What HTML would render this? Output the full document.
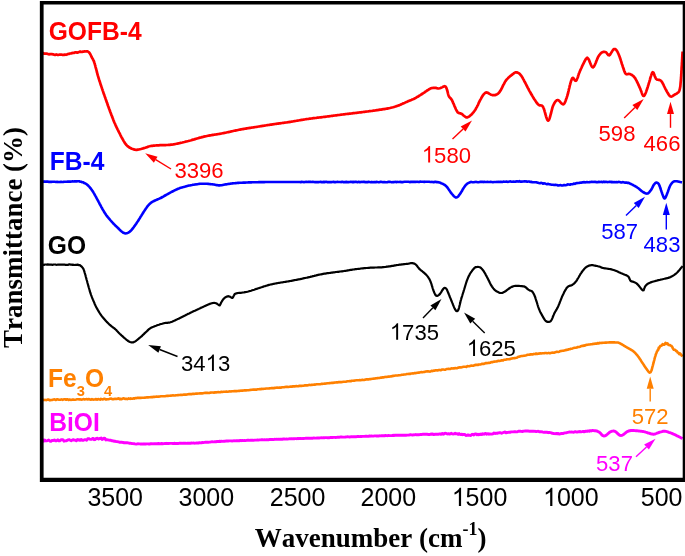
<!DOCTYPE html>
<html><head><meta charset="utf-8"><title>FTIR</title>
<style>
html,body{margin:0;padding:0;background:#fff;}
body{width:685px;height:556px;overflow:hidden;}
svg{display:block;will-change:transform;}
text{font-family:"Liberation Sans",sans-serif;}
.b{font-weight:bold;font-size:24.6px;}
.a{font-size:22.1px;}
.t{font-size:25px;}
.s{font-family:"Liberation Serif",serif;font-weight:bold;font-size:27px;font-kerning:none;}
</style></head><body>
<svg width="685" height="556" viewBox="0 0 685 556">
<rect width="685" height="556" fill="#fff"/>
<path d="M42.0,439.8 L42.6,439.7 L43.2,440.0 L43.9,441.1 L44.8,440.0 L45.6,440.9 L46.6,440.9 L47.6,440.5 L48.7,440.0 L49.8,441.0 L50.9,441.3 L52.0,440.4 L53.2,440.6 L54.4,439.9 L55.5,440.8 L56.7,440.7 L57.8,439.8 L58.9,440.9 L60.0,440.7 L61.0,439.8 L61.9,439.7 L62.9,439.7 L64.0,441.2 L65.0,440.9 L66.0,440.9 L67.1,440.4 L68.1,439.8 L69.1,439.6 L70.2,440.2 L71.2,440.7 L72.3,440.1 L73.3,439.7 L74.3,440.1 L75.3,440.2 L76.3,440.8 L77.3,439.6 L78.2,440.0 L79.1,439.7 L80.0,440.4 L81.2,439.4 L82.3,440.3 L83.4,440.3 L84.5,439.7 L85.6,439.8 L86.7,440.3 L87.7,438.8 L88.8,438.7 L89.7,439.1 L90.7,439.4 L91.6,439.3 L92.5,438.5 L93.4,438.4 L94.2,439.7 L95.0,439.5 L96.3,438.5 L97.5,438.3 L98.6,439.1 L99.5,438.5 L100.4,438.5 L101.2,438.0 L102.1,439.6 L103.0,439.1 L104.0,438.2 L105.0,438.5 L105.9,440.0 L106.9,439.6 L107.9,439.8 L108.9,440.1 L110.0,440.2 L110.8,440.3 L111.7,440.7 L112.6,440.8 L113.5,441.0 L114.5,441.3 L115.4,441.3 L116.4,441.6 L117.4,441.6 L118.4,441.9 L119.4,442.2 L120.3,442.3 L121.3,442.2 L122.2,442.3 L123.2,442.5 L124.2,442.8 L125.2,442.8 L126.2,442.8 L127.2,442.8 L128.1,442.9 L129.1,443.2 L130.0,443.1 L131.0,443.4 L131.8,443.5 L132.6,443.6 L133.3,443.6 L134.1,443.7 L135.0,443.9 L136.2,444.1 L137.6,443.8 L139.3,443.9 L140.0,443.9 L140.7,444.1 L141.5,444.0 L142.3,444.0 L143.1,444.1 L144.0,443.8 L144.9,444.0 L145.8,444.0 L146.8,443.9 L147.8,443.9 L148.8,444.0 L149.8,444.0 L150.8,443.7 L151.9,443.7 L152.9,443.9 L154.0,443.7 L155.1,443.8 L156.2,443.8 L157.3,443.7 L158.4,443.5 L159.5,443.7 L160.6,443.7 L161.7,443.5 L162.8,443.7 L163.9,443.6 L165.0,443.5 L165.9,443.5 L166.9,443.3 L167.9,443.5 L168.8,443.5 L169.8,443.4 L170.8,443.4 L171.8,443.4 L172.8,443.5 L173.8,443.5 L174.9,443.3 L175.9,443.5 L176.9,443.5 L178.0,443.5 L179.0,443.3 L180.1,443.3 L181.1,443.2 L182.1,443.4 L183.2,443.1 L184.2,443.2 L185.3,443.2 L186.3,443.4 L187.3,443.3 L188.4,443.2 L189.4,443.2 L190.4,443.3 L191.4,443.0 L192.4,443.1 L193.4,443.0 L194.4,443.2 L195.4,443.1 L196.4,443.0 L197.5,442.9 L198.5,443.0 L199.5,442.7 L200.5,442.9 L201.4,442.8 L202.4,442.5 L203.4,442.6 L204.4,442.4 L205.3,442.3 L206.3,442.3 L207.2,442.3 L208.2,442.3 L209.2,442.1 L210.1,442.1 L211.1,441.9 L212.1,441.8 L213.0,441.9 L214.0,441.9 L215.0,441.7 L216.0,441.7 L217.1,441.5 L218.1,441.5 L219.1,441.3 L220.2,441.5 L221.3,441.3 L222.4,441.4 L223.5,441.3 L224.4,441.1 L225.3,441.2 L226.3,441.0 L227.2,440.9 L228.2,441.0 L229.1,440.9 L230.1,440.9 L231.1,440.9 L232.1,441.0 L233.1,440.9 L234.1,440.8 L235.1,440.9 L236.1,440.8 L237.2,440.8 L238.2,440.7 L239.2,440.8 L240.3,440.5 L241.3,440.7 L242.3,440.4 L243.4,440.6 L244.4,440.4 L245.5,440.6 L246.5,440.4 L247.5,440.3 L248.6,440.2 L249.6,440.4 L250.6,440.3 L251.6,440.2 L252.6,440.1 L253.6,440.3 L254.6,440.1 L255.6,440.1 L256.6,440.1 L257.5,439.9 L258.5,440.1 L259.5,439.9 L260.5,439.9 L261.5,439.8 L262.5,439.8 L263.5,439.9 L264.4,439.8 L265.3,439.9 L266.3,439.8 L267.2,439.8 L268.1,439.6 L269.0,439.7 L269.9,439.5 L270.8,439.5 L271.7,439.5 L272.6,439.5 L273.5,439.6 L274.4,439.3 L275.4,439.4 L276.3,439.3 L277.2,439.4 L278.2,439.2 L279.2,439.4 L280.1,439.2 L281.1,439.1 L282.2,439.3 L283.2,439.0 L284.3,439.0 L285.4,439.1 L286.5,439.0 L287.6,439.1 L288.8,438.9 L290.0,438.8 L290.8,438.9 L291.7,438.7 L292.6,438.9 L293.4,438.7 L294.3,438.7 L295.2,438.6 L296.1,438.6 L297.1,438.7 L298.0,438.5 L298.9,438.7 L299.9,438.5 L300.8,438.4 L301.8,438.6 L302.8,438.5 L303.8,438.5 L304.8,438.4 L305.8,438.3 L306.8,438.2 L307.8,438.3 L308.8,438.3 L309.8,438.3 L310.8,438.1 L311.9,438.3 L312.9,438.2 L313.9,438.0 L315.0,438.1 L316.0,438.1 L317.1,438.0 L318.1,438.0 L319.2,438.0 L320.2,437.9 L321.3,437.8 L322.3,437.9 L323.4,437.7 L324.4,437.8 L325.4,437.6 L326.5,437.6 L327.5,437.8 L328.6,437.7 L329.6,437.7 L330.6,437.5 L331.7,437.5 L332.7,437.5 L333.7,437.4 L334.7,437.4 L335.7,437.5 L336.7,437.4 L337.7,437.2 L338.7,437.2 L339.7,437.2 L340.7,437.0 L341.7,437.0 L342.7,437.1 L343.7,437.1 L344.7,437.1 L345.7,437.0 L346.7,436.9 L347.6,436.8 L348.6,436.9 L349.6,437.0 L350.6,436.8 L351.6,436.8 L352.6,436.8 L353.6,436.6 L354.6,436.7 L355.6,436.7 L356.6,436.7 L357.6,436.5 L358.6,436.4 L359.6,436.6 L360.6,436.5 L361.6,436.5 L362.6,436.4 L363.6,436.4 L364.6,436.4 L365.6,436.2 L366.6,436.2 L367.6,436.4 L368.6,436.3 L369.6,436.0 L370.6,436.2 L371.6,436.0 L372.6,436.1 L373.5,436.1 L374.5,435.9 L375.5,435.9 L376.5,436.0 L377.5,435.9 L378.5,436.0 L379.5,435.8 L380.5,435.9 L381.5,435.8 L382.5,435.7 L383.5,435.8 L384.5,435.8 L385.5,435.5 L386.5,435.6 L387.6,435.7 L388.6,435.5 L389.7,435.6 L390.8,435.6 L391.8,435.6 L392.9,435.3 L394.0,435.5 L395.1,435.2 L396.2,435.3 L397.3,435.3 L398.4,435.3 L399.5,435.2 L400.6,435.1 L401.7,435.2 L402.8,435.2 L403.9,435.3 L405.0,435.2 L406.1,435.2 L407.2,435.1 L408.3,435.1 L409.4,435.0 L410.5,434.6 L411.5,434.8 L412.6,435.0 L413.6,434.8 L414.6,434.9 L415.7,434.5 L416.7,434.9 L417.7,434.6 L418.6,434.9 L419.6,434.6 L420.5,434.4 L421.5,434.5 L422.4,434.3 L423.3,434.3 L424.1,434.3 L425.0,434.2 L425.8,434.2 L426.6,434.2 L427.4,434.2 L428.1,434.6 L428.8,434.4 L429.5,434.5 L430.2,434.3 L432.1,434.0 L433.8,434.5 L435.3,434.3 L436.6,434.3 L437.7,434.2 L438.7,434.2 L439.6,433.9 L440.3,434.0 L441.0,434.3 L441.7,433.8 L442.3,433.4 L442.9,434.0 L443.6,434.2 L444.2,433.6 L445.0,433.3 L446.3,433.4 L447.4,434.0 L448.5,433.6 L449.5,434.1 L450.5,433.8 L451.4,433.3 L452.2,433.9 L453.1,434.0 L454.0,433.9 L455.1,433.3 L456.1,433.9 L457.1,433.7 L458.1,434.4 L459.1,433.6 L460.0,434.3 L461.0,434.5 L462.0,434.2 L462.9,434.7 L463.9,434.4 L464.9,434.5 L465.9,435.5 L466.9,435.4 L468.0,434.9 L468.9,435.3 L469.9,435.4 L470.8,435.5 L471.8,434.5 L472.8,434.3 L473.9,434.9 L474.9,434.0 L476.0,434.0 L477.0,434.7 L477.9,434.2 L478.7,434.7 L479.4,434.3 L480.2,434.5 L481.0,434.0 L481.8,434.5 L482.8,433.8 L483.9,434.3 L485.2,433.4 L486.7,434.2 L487.4,433.9 L488.2,433.6 L489.1,434.2 L490.0,434.0 L490.9,434.1 L491.9,434.0 L492.9,433.8 L494.0,433.0 L495.0,433.5 L496.1,433.2 L497.2,433.4 L498.3,432.9 L499.5,432.8 L500.6,432.7 L501.7,433.3 L502.8,432.8 L503.9,432.3 L505.0,432.0 L506.0,432.7 L507.1,432.5 L508.1,432.3 L509.1,432.1 L510.0,432.3 L511.1,431.9 L512.2,431.9 L513.2,431.9 L514.3,431.8 L515.3,431.8 L516.4,431.9 L517.4,431.8 L518.4,431.3 L519.4,431.3 L520.3,431.3 L521.3,431.4 L522.3,431.6 L523.2,431.2 L524.2,431.1 L525.1,431.0 L526.0,431.0 L527.0,430.9 L527.9,431.0 L528.8,431.2 L529.9,431.2 L531.0,431.1 L532.0,431.2 L533.1,431.1 L534.1,431.4 L535.2,431.3 L536.2,431.6 L537.2,431.4 L538.2,431.3 L539.2,431.8 L540.2,431.6 L541.2,431.9 L542.1,431.8 L543.1,432.1 L544.0,432.3 L545.0,432.3 L546.1,432.1 L547.2,432.3 L548.2,432.7 L549.3,432.4 L550.3,432.6 L551.4,432.9 L552.4,433.4 L553.4,433.5 L554.4,433.6 L555.4,433.7 L556.4,433.5 L557.3,433.8 L558.3,433.5 L559.2,434.0 L560.2,433.8 L561.3,433.5 L562.2,433.4 L563.2,433.6 L564.1,433.1 L565.0,432.9 L565.9,432.9 L566.8,432.6 L567.8,432.4 L568.8,432.2 L569.8,432.0 L570.8,432.1 L571.7,432.0 L572.7,432.1 L573.8,432.3 L574.8,431.8 L575.9,431.8 L577.0,432.1 L578.0,431.8 L579.1,431.7 L580.2,431.5 L581.2,431.9 L582.2,431.7 L583.2,431.4 L584.1,431.8 L584.9,431.5 L586.1,431.1 L587.3,431.4 L588.3,430.9 L589.3,431.2 L590.3,430.6 L591.1,431.0 L591.9,430.6 L592.7,430.4 L593.4,430.6 L594.7,430.8 L595.6,430.7 L596.3,431.1 L597.0,431.0 L598.0,431.6 L598.9,432.0 L599.7,432.5 L600.5,433.3 L601.3,434.2 L602.0,435.0 L603.0,435.7 L604.0,436.0 L604.8,435.9 L605.6,435.6 L606.5,435.0 L607.1,434.5 L607.8,433.8 L608.6,433.2 L609.3,432.5 L610.0,432.0 L610.9,431.6 L611.8,431.2 L612.7,431.1 L613.5,431.0 L614.4,431.1 L615.2,431.5 L616.0,432.0 L616.7,432.6 L617.5,433.4 L618.3,434.2 L619.0,434.8 L620.0,435.4 L621.0,435.5 L621.8,435.4 L622.6,435.0 L623.5,434.5 L624.3,433.9 L625.2,433.2 L626.1,432.4 L627.0,431.8 L627.9,431.3 L628.8,431.0 L629.8,430.7 L631.0,430.5 L631.9,430.5 L632.8,430.5 L633.8,430.5 L634.9,430.6 L635.9,430.7 L637.0,430.8 L637.9,430.9 L638.9,431.0 L639.9,431.1 L640.9,431.2 L641.9,431.4 L642.8,431.5 L643.7,431.7 L644.7,431.9 L645.6,432.2 L646.5,432.4 L647.3,432.7 L648.2,433.0 L649.0,433.2 L650.0,433.5 L650.9,433.8 L651.9,434.0 L652.8,434.2 L653.7,434.2 L654.6,434.1 L655.4,433.8 L656.2,433.5 L657.1,433.1 L658.0,432.8 L658.9,432.5 L659.8,432.2 L660.9,431.9 L661.9,431.6 L662.8,431.3 L663.7,431.2 L664.8,431.2 L665.8,431.4 L666.9,431.6 L668.0,432.0 L668.9,432.3 L669.9,432.6 L670.9,433.0 L671.9,433.4 L672.9,433.8 L673.8,434.2 L674.7,434.6 L675.6,435.0 L676.4,435.5 L677.2,435.9 L678.0,436.3 L679.0,436.8 L680.0,437.3 L681.0,437.8 L681.9,438.2 L682.5,438.5" fill="none" stroke="#ff00ff" stroke-width="2.9" stroke-linejoin="round" stroke-linecap="butt"/>
<path d="M42.0,399.9 L42.5,400.0 L43.1,399.8 L43.8,400.0 L44.4,400.0 L45.2,399.9 L46.0,400.1 L46.8,400.0 L47.6,399.5 L48.6,399.6 L49.5,400.2 L50.5,400.1 L51.5,400.0 L52.5,399.9 L53.6,399.5 L54.6,399.4 L55.7,400.0 L56.8,399.4 L58.0,399.4 L59.1,399.7 L60.3,399.8 L61.4,399.4 L62.6,399.9 L63.8,399.3 L65.0,399.3 L66.1,399.8 L67.3,399.2 L68.5,400.0 L69.6,399.5 L70.7,399.9 L71.9,399.7 L73.0,399.4 L74.0,399.7 L75.1,399.8 L76.1,399.6 L77.2,399.3 L78.1,399.3 L79.1,399.4 L80.0,399.2 L81.1,399.6 L82.3,399.5 L83.4,399.1 L84.5,399.4 L85.6,399.2 L86.7,399.1 L87.8,399.4 L88.8,399.1 L89.9,399.4 L91.0,399.7 L92.0,399.1 L93.1,399.6 L94.1,399.5 L95.1,399.5 L96.1,399.0 L97.1,399.6 L98.1,399.0 L99.1,399.4 L100.1,399.6 L101.0,398.9 L102.0,399.2 L102.9,399.5 L103.9,398.8 L104.8,398.8 L105.7,399.5 L106.6,399.4 L107.4,399.3 L108.3,399.3 L109.2,399.0 L110.0,398.7 L111.2,398.5 L112.3,399.3 L113.4,399.1 L114.4,398.9 L115.4,398.9 L116.3,399.0 L117.1,398.9 L118.0,398.5 L118.8,398.4 L119.7,399.2 L120.5,398.7 L121.4,399.3 L122.3,398.9 L123.2,398.3 L124.2,398.6 L125.2,398.9 L126.3,398.7 L127.4,399.1 L128.7,398.4 L130.0,398.9 L130.8,398.4 L131.6,398.7 L132.5,398.8 L133.3,398.3 L134.2,398.6 L135.1,398.1 L136.0,398.3 L137.0,397.9 L137.9,397.9 L138.9,397.9 L139.9,397.8 L140.9,397.9 L141.9,397.8 L142.9,397.8 L144.0,397.7 L145.0,397.6 L146.0,397.5 L147.1,397.3 L148.1,397.4 L149.2,397.3 L150.3,397.3 L151.3,397.0 L152.4,397.1 L153.5,396.9 L154.6,396.9 L155.6,396.8 L156.7,396.6 L157.8,396.8 L158.8,396.6 L159.9,396.5 L160.9,396.3 L161.9,396.2 L163.0,396.2 L164.0,396.2 L165.0,396.2 L166.0,396.0 L167.0,395.9 L168.0,395.9 L169.0,395.8 L170.0,395.8 L171.0,395.6 L172.0,395.5 L173.0,395.4 L174.0,395.5 L175.0,395.5 L176.0,395.2 L177.0,395.2 L178.0,395.1 L179.0,395.0 L180.0,395.0 L181.0,394.7 L182.0,394.9 L183.0,394.7 L184.0,394.5 L185.0,394.6 L186.0,394.6 L187.0,394.5 L188.0,394.2 L189.0,394.1 L190.0,394.1 L191.0,394.0 L192.0,394.1 L193.0,393.8 L194.0,393.9 L195.0,393.7 L196.0,393.6 L197.0,393.6 L198.0,393.5 L199.0,393.5 L200.0,393.4 L201.0,393.4 L202.0,393.4 L203.1,393.2 L204.1,393.0 L205.2,392.9 L206.2,392.9 L207.3,392.8 L208.4,393.0 L209.5,392.9 L210.6,392.6 L211.7,392.5 L212.8,392.5 L213.9,392.6 L215.0,392.4 L216.0,392.4 L217.1,392.2 L218.2,392.1 L219.3,392.3 L220.3,392.2 L221.4,391.8 L222.4,392.0 L223.5,391.8 L224.5,391.7 L225.5,391.8 L226.5,391.5 L227.4,391.7 L228.4,391.6 L229.3,391.4 L230.2,391.5 L231.0,391.4 L231.9,391.2 L232.7,391.2 L233.5,391.3 L234.3,391.1 L235.0,391.1 L236.5,391.1 L237.8,391.0 L239.0,390.9 L239.9,390.9 L240.7,390.6 L241.5,390.7 L242.2,390.5 L242.8,390.6 L243.5,390.5 L244.3,390.4 L245.1,390.3 L246.0,390.4 L247.2,390.3 L248.5,390.2 L250.0,389.9 L250.7,390.0 L251.5,389.8 L252.3,389.8 L253.2,389.6 L254.0,389.6 L254.9,389.5 L255.9,389.6 L256.8,389.6 L257.8,389.3 L258.8,389.2 L259.8,389.1 L260.8,389.1 L261.9,388.9 L263.0,389.0 L264.0,388.8 L265.1,388.7 L266.2,388.5 L267.3,388.5 L268.4,388.5 L269.5,388.4 L270.6,388.3 L271.7,388.1 L272.8,388.0 L273.9,388.1 L275.0,387.9 L276.1,387.8 L277.2,387.6 L278.2,387.7 L279.2,387.6 L280.3,387.6 L281.3,387.6 L282.2,387.3 L283.2,387.3 L284.1,387.2 L285.0,387.0 L286.1,386.9 L287.3,386.8 L288.4,387.0 L289.6,386.8 L290.7,386.6 L291.8,386.6 L293.0,386.4 L294.1,386.4 L295.2,386.4 L296.3,386.0 L297.4,386.2 L298.4,386.1 L299.5,385.9 L300.5,385.8 L301.6,385.9 L302.5,385.7 L303.5,385.7 L304.5,385.4 L305.4,385.4 L306.3,385.3 L307.2,385.4 L308.0,385.3 L308.8,385.0 L309.6,384.9 L310.3,385.1 L311.0,384.9 L311.7,384.9 L313.4,384.8 L314.4,384.6 L315.0,384.7 L315.3,384.6 L315.7,384.5 L316.5,384.3 L317.8,384.3 L320.0,384.2 L320.6,384.2 L321.4,383.8 L322.1,384.0 L322.9,383.8 L323.8,383.7 L324.7,383.6 L325.6,383.6 L326.6,383.4 L327.6,383.3 L328.6,383.3 L329.7,383.1 L330.8,383.0 L331.9,382.8 L333.0,382.9 L334.2,382.6 L335.3,382.5 L336.5,382.4 L337.7,382.4 L338.8,382.1 L340.0,382.1 L341.2,382.1 L342.3,382.0 L343.4,381.7 L344.6,381.8 L345.7,381.7 L346.8,381.4 L347.8,381.3 L348.9,381.3 L349.9,381.1 L350.8,381.2 L351.7,380.8 L352.6,380.7 L353.5,380.8 L354.3,380.6 L355.0,380.5 L356.5,380.3 L357.8,380.2 L359.0,380.3 L359.9,380.0 L360.7,380.2 L361.5,380.0 L362.2,379.8 L362.8,379.9 L363.5,380.0 L364.3,379.9 L365.1,379.8 L366.0,379.4 L367.2,379.4 L368.5,379.4 L370.0,379.1 L370.7,379.1 L371.5,378.9 L372.3,378.7 L373.1,378.8 L374.0,378.6 L374.8,378.5 L375.7,378.4 L376.6,378.3 L377.6,378.1 L378.5,378.0 L379.5,378.0 L380.5,377.6 L381.5,377.6 L382.6,377.4 L383.6,377.4 L384.7,377.1 L385.7,376.9 L386.8,377.0 L387.9,376.6 L389.0,376.6 L390.0,376.5 L391.1,376.4 L392.2,376.1 L393.3,375.9 L394.4,375.7 L395.5,375.5 L396.6,375.5 L397.7,375.5 L398.8,375.3 L399.8,375.2 L400.9,375.0 L401.9,374.7 L403.0,374.8 L404.0,374.5 L405.0,374.5 L406.0,374.3 L407.0,374.0 L408.0,374.0 L409.0,373.9 L410.1,373.9 L411.1,373.6 L412.1,373.4 L413.2,373.5 L414.2,373.1 L415.3,373.1 L416.3,373.0 L417.3,372.7 L418.4,372.6 L419.4,372.6 L420.5,372.3 L421.5,372.1 L422.5,372.2 L423.6,372.0 L424.6,371.9 L425.6,371.6 L426.6,371.4 L427.6,371.3 L428.6,371.4 L429.6,371.6 L430.6,371.5 L431.6,370.8 L432.6,371.1 L433.6,370.6 L434.5,370.7 L435.5,370.3 L436.4,370.2 L437.3,370.5 L438.2,370.2 L439.1,369.9 L440.0,370.1 L441.1,370.1 L442.2,369.5 L443.3,369.5 L444.4,369.7 L445.5,369.6 L446.5,369.0 L447.5,369.0 L448.5,368.8 L449.5,369.0 L450.5,368.9 L451.5,368.4 L452.5,368.5 L453.4,368.3 L454.4,368.4 L455.3,368.0 L456.3,368.2 L457.2,368.1 L458.1,367.6 L459.0,367.6 L460.0,367.3 L460.9,367.5 L461.8,367.3 L462.7,366.9 L463.6,366.7 L464.6,366.7 L465.5,366.8 L466.4,366.9 L467.4,366.1 L468.5,366.2 L469.5,366.3 L470.6,365.7 L471.6,365.6 L472.7,365.7 L473.7,365.6 L474.7,365.1 L475.8,364.9 L476.8,364.8 L477.8,365.0 L478.8,364.5 L479.8,364.5 L480.8,364.4 L481.8,363.8 L482.8,363.9 L483.7,363.9 L484.7,363.6 L485.6,363.1 L486.5,363.0 L487.4,363.1 L488.3,362.9 L489.2,362.9 L490.0,362.8 L491.2,362.1 L492.3,362.2 L493.4,361.8 L494.5,361.6 L495.5,361.5 L496.6,361.5 L497.6,361.0 L498.6,360.8 L499.5,361.0 L500.5,360.8 L501.4,360.3 L502.3,360.3 L503.1,360.5 L504.0,359.8 L504.8,359.8 L505.6,359.8 L506.4,359.4 L507.7,359.3 L508.9,359.3 L510.0,359.1 L511.0,358.6 L512.0,358.5 L512.9,358.3 L513.8,358.3 L514.6,358.1 L515.5,358.0 L516.3,357.8 L517.3,357.5 L518.2,356.8 L519.0,356.8 L519.7,356.5 L520.5,356.2 L521.5,356.0 L522.7,356.0 L523.5,355.8 L524.4,355.8 L525.4,355.5 L526.4,355.2 L527.5,354.8 L528.6,354.8 L529.7,354.6 L530.8,354.4 L531.9,354.2 L533.0,354.4 L534.0,353.9 L535.0,354.1 L536.1,353.5 L537.1,354.0 L538.2,353.6 L539.3,353.6 L540.3,353.2 L541.3,353.4 L542.3,353.2 L543.3,353.3 L544.3,353.3 L545.2,353.0 L546.0,353.0 L547.1,353.3 L548.0,353.1 L548.8,352.9 L549.6,353.2 L550.5,353.1 L551.6,352.8 L553.0,352.6 L553.7,352.7 L554.5,352.6 L555.4,352.3 L556.3,351.8 L557.2,351.8 L558.2,352.0 L559.2,351.8 L560.2,351.1 L561.3,351.0 L562.4,350.7 L563.4,350.8 L564.5,350.4 L565.6,350.1 L566.7,349.9 L567.7,349.7 L568.8,349.2 L569.7,349.3 L570.7,348.7 L571.7,348.8 L572.7,348.4 L573.7,347.9 L574.7,347.7 L575.8,347.7 L576.8,347.5 L577.8,347.0 L578.8,347.0 L579.9,346.7 L580.9,346.3 L581.9,345.9 L582.8,346.0 L583.8,345.5 L584.7,345.7 L585.6,345.1 L586.4,344.9 L587.6,344.7 L588.8,344.5 L589.8,344.5 L590.9,344.3 L591.9,344.3 L592.9,343.8 L593.8,344.0 L594.8,343.6 L595.7,343.5 L596.7,343.6 L597.6,343.0 L598.6,343.5 L599.7,342.9 L600.8,343.0 L601.9,342.9 L603.0,342.8 L604.1,342.7 L605.2,342.6 L606.3,342.6 L607.3,342.5 L608.3,342.5 L609.2,342.4 L610.0,342.4 L611.3,342.4 L612.5,342.4 L613.5,342.4 L614.4,342.4 L615.2,342.5 L616.0,342.5 L617.1,342.5 L617.9,342.5 L619.0,342.9 L619.7,343.2 L620.5,343.6 L621.4,344.1 L622.3,344.7 L623.2,345.2 L624.2,345.8 L625.2,346.4 L626.0,346.9 L626.8,347.3 L627.7,347.8 L628.6,348.3 L629.5,348.8 L630.4,349.3 L631.2,349.8 L632.0,350.3 L632.7,350.8 L633.6,351.5 L634.4,352.2 L635.1,352.9 L635.8,353.6 L636.4,354.3 L637.0,355.0 L637.6,355.7 L638.1,356.4 L638.6,357.1 L639.1,357.8 L639.7,358.7 L640.3,359.6 L640.8,360.3 L641.3,361.2 L641.9,362.1 L642.5,363.0 L643.1,363.9 L643.7,364.8 L644.3,365.7 L644.8,366.5 L645.3,367.2 L646.0,368.2 L646.6,369.1 L647.1,369.8 L647.6,370.4 L648.0,371.0 L648.9,372.1 L649.7,372.6 L650.5,372.3 L651.2,371.0 L651.5,370.4 L651.7,369.6 L652.0,368.8 L652.2,367.8 L652.5,366.6 L652.9,365.3 L653.1,364.5 L653.3,363.7 L653.6,362.7 L653.8,361.7 L654.1,360.7 L654.4,359.6 L654.6,358.6 L654.9,357.5 L655.2,356.5 L655.5,355.6 L655.7,354.7 L656.0,353.9 L656.5,352.7 L656.9,351.6 L657.4,350.9 L657.9,349.9 L658.3,349.6 L658.8,347.7 L659.2,348.0 L659.8,346.7 L660.4,345.9 L661.0,345.9 L661.7,345.6 L662.6,344.1 L663.5,344.6 L664.5,344.6 L665.5,342.8 L666.5,343.8 L667.4,343.3 L668.4,344.9 L669.3,345.1 L670.0,345.1 L670.8,345.6 L671.5,346.0 L672.3,347.1 L673.0,348.6 L673.8,349.8 L674.5,349.6 L675.3,349.9 L676.0,351.0 L676.8,351.1 L677.6,352.5 L678.4,352.8 L679.2,354.2 L680.0,353.4 L680.6,354.1 L681.8,355.6 L682.5,356.5" fill="none" stroke="#ff8000" stroke-width="2.6" stroke-linejoin="round" stroke-linecap="butt"/>
<path d="M42.0,264.7 L42.6,265.0 L43.2,264.7 L44.0,264.9 L44.9,264.5 L45.8,264.5 L46.8,264.6 L47.9,264.4 L49.0,264.7 L50.1,264.6 L51.3,264.7 L52.5,264.9 L53.6,264.5 L54.8,264.5 L55.9,264.7 L57.0,264.8 L58.1,264.5 L59.1,264.7 L60.0,264.5 L61.1,264.6 L62.3,264.5 L63.4,264.6 L64.6,264.7 L65.7,264.8 L66.8,264.8 L67.8,264.9 L68.8,264.4 L69.8,264.4 L70.8,264.7 L71.7,264.5 L72.5,265.0 L73.3,264.7 L74.0,265.0 L75.6,264.9 L76.7,264.9 L77.6,264.5 L78.3,265.0 L79.0,265.2 L79.9,265.1 L80.7,265.8 L81.4,266.4 L82.0,267.0 L82.5,267.6 L83.0,268.2 L83.5,269.1 L84.0,270.5 L84.2,271.2 L84.5,272.0 L84.7,272.8 L85.0,273.7 L85.3,274.7 L85.6,275.7 L85.8,276.8 L86.1,277.8 L86.4,278.9 L86.7,280.0 L87.0,281.0 L87.3,282.0 L87.5,283.0 L87.8,284.0 L88.1,285.0 L88.4,286.1 L88.7,287.2 L89.0,288.2 L89.3,289.2 L89.6,290.2 L89.8,291.2 L90.1,292.1 L90.4,293.0 L90.8,294.1 L91.1,295.1 L91.5,296.0 L91.8,296.9 L92.1,297.7 L92.5,298.6 L92.8,299.4 L93.2,300.2 L93.5,301.0 L93.9,301.9 L94.3,302.8 L94.6,303.7 L95.0,304.6 L95.4,305.4 L95.8,306.3 L96.2,307.1 L96.7,308.0 L97.2,308.9 L97.7,309.8 L98.2,310.7 L98.8,311.6 L99.3,312.5 L99.9,313.4 L100.4,314.2 L101.0,315.0 L101.6,315.9 L102.3,316.7 L102.9,317.5 L103.6,318.3 L104.2,319.0 L104.9,319.8 L105.5,320.5 L106.2,321.3 L107.0,322.1 L107.7,322.8 L108.4,323.5 L109.2,324.3 L110.0,325.0 L110.8,325.6 L111.6,326.3 L112.4,326.9 L113.2,327.6 L114.1,328.2 L114.9,328.9 L115.6,329.5 L116.4,330.2 L117.1,331.0 L117.8,331.7 L118.5,332.5 L119.2,333.2 L120.0,334.0 L120.7,334.6 L121.4,335.3 L122.1,335.9 L122.9,336.6 L123.6,337.3 L124.3,337.9 L125.0,338.5 L125.6,339.0 L126.6,339.8 L127.5,340.5 L128.2,341.0 L129.0,341.5 L130.0,342.0 L131.0,342.3 L132.0,342.4 L132.9,342.4 L133.8,342.1 L135.0,341.5 L135.7,341.1 L136.4,340.5 L137.3,339.8 L138.1,339.2 L139.0,338.4 L139.9,337.7 L140.7,337.0 L141.5,336.3 L142.3,335.6 L143.0,334.8 L143.8,334.1 L144.5,333.4 L145.3,332.7 L146.0,332.0 L146.8,331.3 L147.5,330.6 L148.2,329.9 L149.0,329.2 L149.8,328.6 L150.7,328.0 L151.5,327.6 L152.3,327.2 L153.3,326.8 L154.2,326.4 L155.2,326.0 L156.1,325.7 L157.1,325.3 L158.0,325.0 L159.0,324.7 L160.0,324.3 L161.0,324.0 L162.0,323.8 L163.0,323.5 L164.0,323.2 L165.0,323.0 L165.9,322.8 L166.7,322.8 L167.4,322.8 L168.2,322.7 L169.2,322.6 L170.4,322.3 L172.0,321.7 L172.7,321.4 L173.4,321.1 L174.1,320.8 L174.9,320.4 L175.8,320.0 L176.7,319.6 L177.6,319.1 L178.6,318.7 L179.5,318.2 L180.5,317.7 L181.5,317.2 L182.5,316.7 L183.5,316.2 L184.5,315.7 L185.5,315.2 L186.4,314.7 L187.4,314.3 L188.3,313.8 L189.2,313.4 L190.0,313.0 L191.0,312.5 L192.0,312.1 L193.0,311.6 L194.0,311.1 L194.9,310.7 L195.9,310.2 L196.9,309.8 L197.9,309.3 L198.8,308.9 L199.7,308.4 L200.6,308.0 L201.4,307.6 L202.2,307.3 L203.0,306.9 L203.7,306.6 L204.4,306.3 L205.0,306.0 L206.6,305.2 L207.7,304.7 L208.4,304.4 L209.0,304.2 L209.7,303.9 L210.9,303.5 L212.0,303.2 L213.0,303.0 L214.1,302.9 L215.1,303.0 L216.0,303.2 L217.1,303.8 L218.0,304.5 L218.9,305.2 L219.7,305.4 L220.1,304.8 L220.6,303.9 L221.0,302.9 L221.5,302.0 L222.0,301.2 L222.5,300.4 L223.0,299.7 L223.5,299.0 L224.3,298.2 L225.1,297.5 L226.0,297.0 L226.9,296.6 L227.7,296.3 L228.5,296.2 L229.5,296.5 L230.5,297.0 L231.4,297.7 L232.3,298.0 L232.9,297.4 L233.4,296.4 L234.0,295.5 L234.3,294.8 L234.7,294.1 L236.1,293.4 L236.7,293.3 L237.4,293.1 L238.2,293.0 L239.0,292.9 L239.9,292.9 L240.8,292.8 L241.8,292.7 L242.9,292.5 L244.0,292.4 L245.1,292.2 L246.3,292.0 L247.5,291.7 L248.3,291.5 L249.2,291.2 L250.2,291.0 L251.1,290.7 L252.2,290.3 L253.2,290.0 L254.3,289.7 L255.3,289.3 L256.4,288.9 L257.5,288.6 L258.5,288.2 L259.6,287.9 L260.6,287.5 L261.6,287.2 L262.5,286.9 L263.4,286.6 L264.2,286.3 L265.0,286.1 L266.3,285.7 L267.4,285.4 L268.3,285.1 L269.0,284.9 L269.8,284.7 L270.5,284.5 L271.4,284.3 L272.5,284.1 L273.8,283.8 L274.6,283.7 L275.4,283.5 L276.3,283.3 L277.2,283.2 L278.1,283.0 L279.1,282.8 L280.1,282.7 L281.2,282.5 L282.2,282.3 L283.3,282.2 L284.3,282.0 L285.4,281.8 L286.5,281.6 L287.5,281.5 L288.5,281.3 L289.5,281.1 L290.4,281.0 L291.3,280.8 L292.4,280.6 L293.5,280.4 L294.5,280.2 L295.5,280.0 L296.5,279.8 L297.5,279.6 L298.4,279.4 L299.4,279.3 L300.3,279.1 L301.3,278.9 L302.2,278.7 L303.2,278.4 L304.3,278.2 L305.3,278.0 L306.2,277.8 L307.2,277.6 L308.2,277.3 L309.2,277.1 L310.2,276.9 L311.2,276.6 L312.2,276.4 L313.2,276.1 L314.2,275.9 L315.2,275.6 L316.2,275.4 L317.2,275.1 L318.2,274.9 L319.2,274.7 L320.2,274.5 L321.1,274.3 L322.2,274.1 L323.2,273.9 L324.3,273.7 L325.3,273.6 L326.4,273.4 L327.4,273.2 L328.4,273.1 L329.4,273.0 L330.4,272.8 L331.4,272.7 L332.3,272.6 L333.2,272.4 L334.1,272.3 L335.0,272.2 L336.2,272.0 L337.3,271.9 L338.3,271.8 L339.3,271.6 L340.3,271.5 L341.2,271.4 L342.2,271.3 L343.1,271.2 L344.0,271.0 L345.0,270.9 L346.0,270.8 L346.9,270.6 L347.8,270.4 L348.6,270.3 L349.5,270.1 L350.4,269.9 L351.4,269.8 L352.4,269.6 L353.4,269.5 L354.6,269.3 L355.4,269.2 L356.3,269.1 L357.2,269.0 L358.1,268.9 L359.1,268.8 L360.1,268.7 L361.1,268.5 L362.1,268.4 L363.1,268.3 L364.1,268.2 L365.2,268.1 L366.2,268.0 L367.2,268.0 L368.2,267.9 L369.2,267.8 L370.2,267.7 L371.1,267.7 L372.1,267.6 L373.1,267.6 L374.1,267.6 L375.0,267.5 L376.0,267.5 L377.0,267.5 L378.0,267.4 L378.9,267.4 L379.9,267.4 L380.9,267.3 L381.9,267.3 L382.8,267.2 L383.8,267.1 L384.8,267.0 L385.8,266.9 L386.8,266.7 L387.8,266.6 L388.9,266.4 L389.9,266.3 L391.0,266.1 L392.0,265.9 L393.0,265.8 L394.0,265.6 L394.9,265.4 L395.9,265.3 L396.7,265.1 L397.6,265.0 L398.4,264.9 L399.7,264.7 L400.8,264.6 L401.9,264.4 L402.9,264.3 L403.9,264.2 L404.8,264.1 L405.6,264.0 L406.4,263.9 L407.2,263.8 L408.5,263.6 L409.6,263.4 L410.5,263.2 L411.4,263.1 L412.3,263.1 L413.3,263.3 L414.2,263.6 L415.0,264.0 L415.9,264.7 L416.5,265.3 L417.1,266.0 L417.7,266.8 L418.3,267.6 L418.9,268.4 L419.6,269.1 L420.3,269.7 L421.0,270.4 L421.8,270.9 L422.5,271.5 L423.2,272.1 L423.9,272.7 L424.7,273.4 L425.5,274.1 L426.2,274.8 L426.9,275.6 L427.6,276.4 L428.1,277.1 L428.6,277.9 L429.1,278.6 L429.6,279.5 L430.0,280.4 L430.5,281.5 L430.8,282.3 L431.2,283.3 L431.5,284.3 L431.8,285.4 L432.2,286.5 L432.5,287.6 L432.8,288.6 L433.1,289.5 L433.4,290.3 L433.8,291.5 L434.2,292.4 L434.6,293.2 L434.9,293.9 L435.2,294.5 L435.9,295.5 L436.6,295.9 L437.4,295.8 L438.2,295.4 L439.0,294.9 L440.0,293.9 L440.5,293.2 L441.0,292.4 L441.5,291.6 L442.0,290.7 L442.5,290.0 L443.2,289.0 L443.9,288.2 L444.5,287.8 L445.5,288.0 L446.5,289.0 L446.9,289.6 L447.2,290.3 L447.6,291.3 L448.3,293.0 L448.6,293.7 L448.9,294.5 L449.3,295.4 L449.7,296.5 L450.1,297.5 L450.6,298.6 L451.0,299.7 L451.4,300.8 L451.9,301.9 L452.3,302.9 L452.7,303.8 L453.0,304.7 L453.3,305.4 L453.9,306.9 L454.4,308.0 L454.8,308.8 L455.1,309.4 L455.5,310.0 L456.3,311.0 L457.0,311.2 L457.5,311.0 L458.1,310.3 L458.7,309.0 L458.9,308.3 L459.1,307.6 L459.3,306.7 L459.5,305.7 L459.8,304.7 L460.0,303.6 L460.3,302.6 L460.5,301.5 L460.8,300.4 L461.1,299.5 L461.3,298.6 L461.6,297.7 L461.9,296.7 L462.2,295.8 L462.5,294.8 L462.8,293.8 L463.1,292.8 L463.4,291.9 L463.7,290.9 L464.0,290.0 L464.3,289.0 L464.6,288.0 L464.9,287.0 L465.2,286.0 L465.5,285.0 L465.8,284.0 L466.1,283.0 L466.4,282.1 L466.7,281.2 L467.0,280.3 L467.4,279.3 L467.8,278.3 L468.2,277.3 L468.7,276.4 L469.1,275.5 L469.6,274.6 L470.0,273.8 L470.5,273.0 L471.1,272.1 L471.7,271.3 L472.3,270.4 L472.9,269.7 L473.5,269.0 L474.1,268.4 L474.6,267.9 L475.5,267.2 L476.2,267.1 L477.0,267.0 L477.9,266.9 L478.8,267.0 L479.7,267.2 L480.5,267.6 L481.2,268.2 L482.0,269.0 L482.5,269.6 L483.0,270.3 L483.6,271.0 L484.1,271.9 L484.7,272.8 L485.1,273.5 L485.6,274.4 L486.0,275.2 L486.5,276.1 L487.0,277.1 L487.5,278.0 L488.0,279.0 L488.4,279.8 L488.8,280.7 L489.3,281.5 L489.7,282.5 L490.2,283.4 L490.6,284.3 L491.1,285.1 L491.6,285.9 L492.0,286.6 L492.7,287.5 L493.3,288.4 L493.9,289.1 L494.6,289.8 L495.3,290.4 L496.0,291.0 L497.0,291.6 L498.0,292.1 L499.0,292.6 L500.0,292.9 L501.0,293.0 L502.1,292.9 L503.0,292.6 L504.0,292.1 L505.0,291.5 L505.8,291.0 L506.6,290.4 L507.5,289.7 L508.3,289.1 L509.1,288.5 L509.8,288.0 L510.8,287.4 L511.7,286.9 L512.5,286.6 L513.4,286.3 L514.3,286.0 L515.4,285.8 L516.2,285.8 L517.1,285.8 L518.1,285.8 L519.0,285.9 L520.0,286.0 L521.0,286.1 L522.0,286.2 L523.0,286.3 L524.0,286.4 L524.8,286.7 L525.6,287.2 L526.3,287.8 L526.9,288.4 L527.5,289.0 L528.4,289.6 L529.2,290.1 L530.0,290.6 L530.8,290.8 L531.5,291.0 L532.3,291.6 L532.7,292.1 L533.1,292.8 L533.5,293.5 L534.0,294.4 L534.5,295.5 L535.0,296.8 L535.3,297.5 L535.5,298.3 L535.8,299.2 L536.1,300.2 L536.4,301.2 L536.8,302.2 L537.1,303.2 L537.4,304.3 L537.7,305.3 L538.0,306.3 L538.4,307.3 L538.7,308.2 L539.0,309.0 L539.5,310.1 L539.9,311.2 L540.4,312.2 L540.9,313.1 L541.4,314.0 L541.8,314.9 L542.3,315.7 L542.7,316.4 L543.1,317.1 L543.7,318.2 L544.3,319.1 L544.8,319.9 L545.3,320.5 L545.8,321.0 L546.7,321.6 L547.6,321.9 L548.5,321.9 L549.4,321.8 L550.3,321.5 L551.2,320.5 L551.6,319.8 L552.0,319.0 L552.4,318.1 L552.8,317.0 L553.2,316.0 L553.7,314.9 L554.1,313.9 L554.5,313.0 L555.0,312.1 L555.4,311.3 L555.9,310.6 L556.3,309.9 L556.8,309.1 L557.3,308.1 L557.9,307.0 L558.2,306.2 L558.6,305.4 L559.0,304.4 L559.4,303.5 L559.8,302.4 L560.2,301.4 L560.6,300.4 L561.0,299.3 L561.4,298.3 L561.8,297.3 L562.2,296.4 L562.6,295.5 L563.1,294.5 L563.6,293.5 L564.0,292.6 L564.5,291.6 L565.0,290.7 L565.5,289.9 L566.0,289.1 L566.4,288.3 L566.9,287.7 L567.4,287.1 L568.4,286.3 L569.3,285.9 L570.3,285.7 L571.2,285.4 L572.1,285.0 L572.9,284.4 L573.7,283.9 L574.4,283.2 L575.2,282.4 L576.1,281.3 L576.6,280.6 L577.1,279.8 L577.6,278.9 L578.2,278.0 L578.8,277.0 L579.3,276.0 L579.9,275.1 L580.4,274.1 L581.0,273.3 L581.5,272.5 L582.2,271.5 L582.9,270.6 L583.6,269.8 L584.2,269.0 L584.9,268.3 L585.5,267.7 L586.2,267.1 L587.2,266.5 L588.2,266.0 L589.1,265.6 L590.1,265.4 L591.0,265.2 L592.0,265.1 L593.0,265.2 L593.9,265.4 L595.0,265.6 L596.0,265.8 L597.0,266.0 L598.1,266.3 L599.1,266.5 L600.0,266.8 L600.9,267.2 L601.6,267.6 L603.0,268.0 L603.7,268.1 L604.5,268.3 L605.4,268.4 L606.3,268.5 L607.3,268.7 L608.4,268.8 L609.4,269.0 L610.5,269.2 L611.5,269.4 L612.5,269.7 L613.5,270.0 L614.5,270.3 L615.5,270.7 L616.5,271.1 L617.5,271.5 L618.5,272.0 L619.4,272.4 L620.3,272.8 L621.2,273.2 L622.0,273.5 L623.1,274.0 L624.1,274.4 L625.0,274.8 L625.9,275.1 L626.7,275.5 L627.4,275.9 L628.0,276.3 L628.9,277.3 L629.3,278.3 L629.7,279.2 L630.1,280.2 L630.8,281.0 L631.6,281.4 L632.7,281.6 L633.8,282.0 L634.8,282.4 L635.7,282.9 L636.5,283.4 L637.3,284.1 L638.2,285.0 L638.8,285.7 L639.5,286.6 L640.3,287.6 L641.0,288.5 L641.8,289.4 L642.4,290.1 L642.9,290.5 L643.6,290.3 L644.0,289.3 L644.3,288.3 L644.7,287.5 L645.0,286.7 L645.6,285.8 L646.2,285.1 L647.0,284.4 L647.9,283.7 L649.0,283.1 L649.8,282.8 L650.6,282.4 L651.5,282.1 L652.5,281.8 L653.5,281.5 L654.6,281.2 L655.7,280.9 L656.6,280.7 L657.5,280.4 L658.5,280.2 L659.5,280.0 L660.5,279.7 L661.6,279.5 L662.6,279.2 L663.5,279.0 L664.4,278.8 L665.2,278.6 L666.3,278.3 L667.3,278.1 L668.2,277.9 L669.0,277.6 L669.7,277.4 L670.6,277.0 L671.5,276.5 L672.5,276.0 L673.5,275.4 L674.4,274.8 L675.2,274.2 L676.0,273.6 L676.9,272.8 L677.7,272.0 L678.3,271.3 L679.0,270.5 L679.7,269.7 L680.3,268.9 L680.9,268.1 L681.4,267.5 L682.1,266.6 L682.5,266.0" fill="none" stroke="#000000" stroke-width="2.2" stroke-linejoin="round" stroke-linecap="butt"/>
<path d="M42.0,181.6 L42.6,181.8 L43.2,181.7 L44.0,181.4 L44.8,181.8 L45.8,181.6 L46.8,181.6 L47.8,181.6 L48.9,181.9 L50.1,181.9 L51.2,181.9 L52.4,181.7 L53.6,181.7 L54.7,181.8 L55.9,182.0 L57.0,181.8 L58.0,182.1 L59.0,181.9 L60.0,182.1 L61.1,181.8 L62.2,182.0 L63.3,181.9 L64.4,181.7 L65.5,181.8 L66.6,181.7 L67.7,181.6 L68.8,181.6 L69.8,181.5 L70.8,181.6 L71.7,181.5 L72.6,181.4 L73.5,181.5 L74.3,181.4 L75.0,181.2 L76.6,181.4 L77.8,181.3 L78.8,181.3 L79.6,181.3 L80.4,181.8 L81.2,181.7 L82.2,182.3 L83.2,182.2 L84.1,183.0 L85.0,183.3 L85.8,183.7 L86.6,184.3 L87.4,184.9 L88.2,185.6 L88.9,186.4 L89.7,187.2 L90.2,187.9 L90.8,188.6 L91.3,189.3 L91.9,190.1 L92.4,190.9 L93.0,191.7 L93.5,192.6 L94.0,193.4 L94.4,194.1 L94.8,194.8 L95.2,195.6 L95.7,196.4 L96.2,197.3 L96.7,198.4 L97.4,199.6 L97.8,200.3 L98.2,201.0 L98.6,201.8 L99.1,202.7 L99.5,203.6 L100.0,204.5 L100.5,205.4 L101.0,206.3 L101.5,207.3 L102.0,208.2 L102.5,209.2 L103.1,210.1 L103.6,210.9 L104.1,211.8 L104.5,212.6 L105.0,213.3 L105.7,214.3 L106.3,215.2 L107.0,216.1 L107.6,216.9 L108.3,217.7 L108.9,218.5 L109.6,219.2 L110.2,220.0 L110.8,220.7 L111.4,221.3 L112.0,222.0 L112.8,222.9 L113.6,223.8 L114.5,224.6 L115.2,225.4 L116.0,226.1 L116.7,226.8 L117.4,227.4 L118.0,228.0 L119.0,229.0 L119.7,229.8 L120.4,230.4 L121.0,231.0 L121.9,231.7 L122.7,232.3 L123.5,232.8 L124.6,233.2 L125.6,233.4 L126.7,233.3 L127.8,232.9 L128.7,232.4 L129.6,231.8 L130.5,231.0 L131.1,230.5 L131.6,229.9 L132.2,229.2 L132.8,228.4 L133.5,227.5 L134.0,226.8 L134.5,226.1 L135.1,225.3 L135.6,224.5 L136.2,223.7 L136.8,222.8 L137.4,221.9 L138.0,221.0 L138.5,220.2 L139.1,219.3 L139.7,218.4 L140.2,217.4 L140.8,216.5 L141.4,215.6 L141.9,214.7 L142.5,213.8 L143.0,213.0 L143.6,212.0 L144.2,211.1 L144.8,210.2 L145.4,209.3 L145.9,208.5 L146.5,207.7 L147.0,207.0 L147.7,206.0 L148.5,205.2 L149.2,204.4 L149.9,203.7 L150.7,203.0 L151.5,202.4 L152.3,201.9 L153.2,201.4 L154.0,201.0 L155.0,200.5 L155.9,200.1 L156.8,199.7 L157.8,199.3 L158.8,198.9 L159.8,198.4 L160.7,198.0 L161.6,197.5 L162.5,197.0 L163.3,196.6 L164.2,196.0 L165.1,195.5 L166.0,195.0 L166.8,194.5 L167.7,194.1 L168.5,193.6 L169.4,193.1 L170.3,192.6 L171.1,192.2 L172.0,191.7 L172.9,191.3 L173.7,190.8 L174.5,190.4 L175.4,190.0 L176.2,189.6 L177.1,189.2 L178.0,188.8 L178.9,188.5 L179.8,188.1 L180.7,187.8 L181.7,187.5 L182.6,187.2 L183.6,187.0 L184.6,186.7 L185.5,186.5 L186.3,186.2 L187.2,186.0 L188.1,185.8 L189.0,185.6 L189.9,185.4 L190.9,185.2 L192.0,185.0 L192.9,184.8 L193.8,184.7 L194.8,184.5 L195.8,184.4 L196.8,184.2 L197.9,184.1 L198.9,183.9 L200.0,183.8 L201.0,183.8 L202.0,183.7 L203.0,183.7 L204.0,183.7 L205.1,183.7 L206.1,183.8 L207.1,183.8 L208.2,183.9 L209.2,184.0 L210.1,184.1 L211.1,184.2 L212.0,184.3 L213.1,184.4 L214.1,184.6 L215.0,184.8 L216.0,185.0 L216.9,185.1 L217.8,185.3 L218.7,185.4 L219.7,185.4 L220.7,185.3 L221.7,185.2 L222.7,185.0 L223.8,184.8 L224.8,184.6 L225.9,184.4 L226.9,184.2 L228.0,184.0 L228.9,183.9 L229.9,183.7 L230.8,183.6 L231.7,183.5 L232.7,183.4 L233.7,183.3 L234.7,183.2 L235.8,183.1 L237.0,183.0 L237.8,182.9 L238.7,182.9 L239.5,182.8 L240.4,182.8 L241.3,182.7 L242.2,182.7 L243.1,182.6 L244.1,182.6 L245.2,182.6 L246.3,182.5 L247.4,182.5 L248.7,182.4 L250.0,182.4 L250.7,182.4 L251.4,182.4 L252.1,182.3 L252.7,182.3 L253.4,182.3 L254.0,182.3 L254.6,182.3 L255.2,182.2 L255.8,182.2 L256.5,182.2 L257.2,182.2 L258.0,182.2 L258.8,182.1 L259.7,182.1 L260.7,182.1 L261.7,182.1 L262.9,182.1 L264.2,182.1 L265.6,182.0 L267.1,182.0 L268.7,182.0 L270.5,182.0 L272.5,182.0 L273.2,182.0 L273.8,182.0 L274.6,182.0 L275.3,182.0 L276.0,182.0 L276.8,182.0 L277.6,182.0 L278.4,182.0 L279.2,182.0 L280.0,182.0 L280.9,182.0 L281.8,182.0 L282.6,182.0 L283.5,182.0 L284.5,182.0 L285.4,182.0 L286.3,182.0 L287.3,182.0 L288.3,182.0 L289.2,182.0 L290.2,182.0 L291.2,182.0 L292.3,182.0 L293.3,182.0 L294.3,182.0 L295.4,182.0 L296.4,182.0 L297.5,182.0 L298.5,182.0 L299.6,182.0 L300.7,182.1 L301.8,181.9 L302.9,182.0 L304.0,182.1 L305.1,182.0 L306.2,181.8 L307.3,182.0 L308.4,181.8 L309.5,181.9 L310.6,181.9 L311.7,182.0 L312.8,181.8 L313.9,182.0 L315.1,182.1 L316.2,182.1 L317.3,182.1 L318.4,182.1 L319.5,182.0 L320.6,181.9 L321.7,182.1 L322.8,182.1 L323.9,181.9 L325.0,182.1 L326.1,181.8 L327.1,182.1 L328.2,182.1 L329.3,182.1 L330.3,182.0 L331.4,182.1 L332.4,182.0 L333.4,181.9 L334.5,182.1 L335.5,182.1 L336.5,182.0 L337.5,181.9 L338.4,182.0 L339.4,182.0 L340.3,182.0 L341.3,182.1 L342.2,181.8 L343.1,182.1 L344.0,182.1 L345.1,182.1 L346.3,181.9 L347.4,182.1 L348.6,182.1 L349.7,182.0 L350.8,181.8 L352.0,182.1 L353.1,181.9 L354.2,182.1 L355.3,181.8 L356.5,181.9 L357.6,182.2 L358.7,181.8 L359.8,182.2 L360.9,181.9 L362.0,182.0 L363.1,181.9 L364.2,181.9 L365.3,182.1 L366.4,182.1 L367.5,182.1 L368.6,181.9 L369.6,182.0 L370.7,182.2 L371.8,181.9 L372.8,182.2 L373.9,182.1 L374.9,182.0 L375.9,182.1 L377.0,181.9 L378.0,182.1 L379.0,182.2 L380.0,181.9 L381.0,181.9 L382.0,182.0 L382.9,182.2 L383.9,182.0 L384.8,182.1 L385.8,182.2 L386.7,182.2 L387.6,182.1 L388.5,181.8 L389.4,181.9 L390.3,181.9 L391.2,182.1 L392.1,182.2 L392.9,182.1 L393.8,182.1 L394.6,182.0 L395.4,181.8 L396.2,182.2 L397.0,181.9 L397.8,182.0 L398.5,182.0 L399.3,182.0 L400.0,181.9 L401.6,182.1 L403.1,182.1 L404.5,181.8 L405.9,181.8 L407.2,181.8 L408.5,181.8 L409.7,182.1 L410.8,181.9 L411.9,181.9 L413.0,181.8 L414.0,181.9 L414.9,181.9 L415.8,181.9 L416.7,181.7 L417.6,181.7 L418.4,182.0 L419.2,182.0 L420.0,181.6 L420.7,181.8 L421.5,181.8 L422.2,181.7 L422.9,181.8 L423.6,181.7 L424.3,182.0 L425.0,181.7 L426.6,181.8 L428.0,181.8 L429.3,181.8 L430.3,182.0 L431.3,182.0 L432.1,181.9 L432.9,182.1 L433.6,182.0 L434.3,182.1 L435.0,181.8 L436.2,181.9 L437.1,182.2 L437.8,182.1 L438.6,182.2 L439.5,182.6 L440.3,182.8 L441.2,183.2 L442.2,183.6 L443.1,184.0 L444.1,184.6 L445.1,185.2 L446.0,186.0 L446.6,186.6 L447.3,187.4 L447.9,188.2 L448.5,189.1 L449.1,190.0 L449.7,190.9 L450.3,191.8 L450.9,192.6 L451.5,193.4 L452.0,194.0 L452.8,194.9 L453.6,195.8 L454.3,196.5 L455.0,197.0 L455.6,197.4 L456.3,197.5 L457.1,197.3 L457.8,196.8 L458.5,196.1 L459.2,195.1 L460.0,194.0 L460.5,193.3 L461.0,192.4 L461.6,191.5 L462.2,190.5 L462.7,189.5 L463.3,188.5 L463.9,187.6 L464.5,186.7 L465.0,186.0 L465.7,185.1 L466.4,184.4 L467.1,183.8 L467.8,183.3 L468.6,182.9 L469.6,182.5 L470.4,182.1 L471.1,181.9 L471.9,182.1 L472.7,182.2 L473.7,182.3 L474.9,182.0 L476.3,181.9 L478.0,182.3 L478.7,182.2 L479.5,182.0 L480.3,181.9 L481.2,181.9 L482.2,181.8 L483.2,182.1 L484.2,181.7 L485.2,182.0 L486.3,182.0 L487.4,181.9 L488.5,182.0 L489.6,182.0 L490.7,181.9 L491.8,182.0 L492.9,182.2 L494.0,182.0 L495.1,182.0 L496.1,182.0 L497.1,181.9 L498.1,181.7 L499.1,182.0 L500.0,181.9 L501.1,181.9 L502.3,182.0 L503.4,181.6 L504.4,181.8 L505.5,181.7 L506.5,181.5 L507.6,181.9 L508.6,181.7 L509.6,181.5 L510.5,181.4 L511.5,181.7 L512.4,181.8 L513.4,181.6 L514.3,181.7 L515.2,181.6 L516.1,181.6 L517.0,181.3 L518.1,181.6 L519.3,181.1 L520.3,181.7 L521.4,181.6 L522.4,181.6 L523.4,181.4 L524.4,181.2 L525.4,181.4 L526.4,181.4 L527.3,181.7 L528.2,181.5 L529.1,181.5 L530.0,181.9 L531.1,181.7 L532.2,182.2 L533.2,182.2 L534.1,182.2 L535.1,182.3 L536.0,182.3 L536.9,182.4 L537.9,182.7 L538.9,183.0 L540.0,183.3 L540.9,182.9 L541.9,183.0 L542.9,183.6 L544.0,183.4 L545.0,183.5 L546.1,183.9 L547.1,184.2 L548.2,183.8 L549.2,184.3 L550.2,184.4 L551.1,184.6 L552.0,184.7 L553.1,184.8 L554.1,185.0 L555.1,184.9 L556.1,184.9 L557.0,185.1 L557.9,185.4 L558.8,185.5 L559.7,185.3 L560.7,185.1 L561.7,185.5 L562.7,185.5 L563.6,185.1 L564.6,185.0 L565.6,185.2 L566.6,185.0 L567.7,184.4 L568.8,184.5 L570.0,184.7 L570.9,184.3 L571.8,184.3 L572.8,184.2 L573.8,183.5 L574.8,183.9 L575.8,183.3 L576.9,183.1 L577.9,183.0 L579.0,183.0 L580.0,182.6 L581.0,182.8 L582.0,182.3 L583.0,182.4 L584.0,182.1 L585.0,182.4 L586.0,182.3 L587.0,182.0 L587.9,182.2 L588.9,182.3 L589.8,182.1 L590.8,182.0 L591.8,181.7 L592.8,181.9 L593.9,182.0 L595.0,181.7 L595.9,182.1 L596.8,182.1 L597.8,182.2 L598.8,181.8 L599.8,182.1 L600.8,181.9 L601.8,181.9 L602.8,182.2 L603.9,181.6 L604.9,182.1 L605.9,181.8 L607.0,182.0 L608.0,182.1 L609.0,181.9 L610.0,181.8 L611.0,182.1 L612.1,181.9 L613.1,182.3 L614.2,182.1 L615.3,182.3 L616.4,182.0 L617.5,182.3 L618.6,181.9 L619.6,182.0 L620.7,182.4 L621.6,182.5 L622.6,182.1 L623.5,182.3 L624.3,182.5 L625.0,182.6 L626.5,182.6 L627.6,182.9 L628.5,182.8 L629.3,183.1 L630.0,183.6 L631.0,184.0 L631.8,184.4 L632.7,184.8 L633.6,185.3 L634.6,185.8 L635.5,186.4 L636.4,186.9 L637.2,187.5 L638.0,188.0 L639.0,188.7 L639.8,189.4 L640.7,190.2 L641.5,190.9 L642.2,191.5 L643.0,192.0 L643.9,192.5 L644.8,193.0 L645.7,193.4 L646.6,193.6 L647.4,193.5 L648.2,193.2 L648.9,192.6 L649.6,191.8 L650.3,190.9 L651.0,190.0 L651.5,189.2 L652.1,188.2 L652.6,187.2 L653.1,186.2 L653.5,185.3 L654.0,184.6 L654.9,183.5 L655.7,182.8 L656.5,182.6 L657.3,182.7 L658.1,183.3 L659.0,184.6 L659.3,185.3 L659.6,186.1 L660.0,187.0 L660.3,188.1 L660.7,189.1 L661.0,190.2 L661.4,191.2 L661.7,192.2 L662.0,193.0 L662.4,194.2 L662.9,195.4 L663.3,196.6 L663.7,197.5 L664.1,198.2 L664.5,198.5 L665.0,198.3 L665.5,197.6 L666.0,196.5 L666.5,195.3 L667.0,194.0 L667.3,193.2 L667.6,192.4 L668.0,191.4 L668.3,190.5 L668.6,189.5 L669.0,188.5 L669.3,187.6 L669.7,186.7 L670.0,186.0 L670.6,184.9 L671.2,184.0 L671.8,183.2 L672.4,182.5 L673.0,182.0 L673.9,181.4 L674.8,181.2 L676.0,181.2 L676.9,181.3 L678.0,181.5 L679.2,181.8 L680.3,182.1 L681.3,182.3 L682.0,182.5" fill="none" stroke="#0000ff" stroke-width="2.6" stroke-linejoin="round" stroke-linecap="butt"/>
<path d="M42.0,53.2 L42.6,53.3 L43.4,53.2 L44.3,53.7 L45.4,53.5 L46.5,53.7 L47.7,53.9 L48.8,54.3 L50.0,54.1 L50.9,54.1 L51.9,54.2 L53.0,54.3 L54.0,54.6 L55.1,54.9 L56.2,54.4 L57.2,54.8 L58.2,54.9 L59.2,54.7 L60.0,54.7 L61.2,54.5 L62.2,54.8 L63.1,54.9 L63.9,55.0 L64.9,54.5 L66.0,54.8 L66.9,54.5 L67.8,54.0 L68.9,53.9 L69.9,53.5 L71.0,53.4 L72.0,53.1 L73.1,52.9 L74.1,53.0 L75.0,52.4 L76.1,52.4 L77.2,52.6 L78.3,52.4 L79.3,51.9 L80.3,51.6 L81.2,52.0 L82.0,51.9 L83.2,51.6 L84.1,51.6 L84.8,51.3 L85.6,51.5 L86.7,51.4 L87.6,51.4 L88.5,52.0 L89.2,52.6 L89.8,53.4 L90.3,54.2 L90.7,55.0 L91.1,55.8 L91.6,57.0 L92.0,57.7 L92.3,58.3 L92.8,59.0 L93.2,59.9 L93.8,61.0 L94.3,62.5 L94.5,63.2 L94.8,64.0 L95.0,64.9 L95.3,65.8 L95.5,66.8 L95.8,67.8 L96.1,68.9 L96.4,70.0 L96.7,71.1 L96.9,72.2 L97.2,73.2 L97.5,74.3 L97.8,75.4 L98.1,76.4 L98.4,77.4 L98.7,78.4 L99.0,79.4 L99.3,80.3 L99.6,81.3 L100.0,82.3 L100.3,83.3 L100.6,84.3 L100.9,85.3 L101.3,86.2 L101.6,87.2 L101.9,88.1 L102.2,89.0 L102.5,89.8 L102.7,90.6 L103.0,91.4 L103.4,92.6 L103.7,93.6 L104.1,94.5 L104.4,95.4 L104.7,96.2 L104.9,97.0 L105.3,97.9 L105.6,98.9 L106.0,100.0 L106.3,100.8 L106.6,101.7 L106.9,102.6 L107.3,103.6 L107.6,104.5 L107.9,105.5 L108.3,106.5 L108.7,107.5 L109.0,108.5 L109.4,109.5 L109.8,110.5 L110.1,111.5 L110.5,112.5 L110.9,113.5 L111.2,114.4 L111.6,115.4 L112.0,116.3 L112.3,117.3 L112.7,118.2 L113.1,119.2 L113.4,120.2 L113.8,121.1 L114.2,122.1 L114.6,123.0 L115.1,124.0 L115.5,125.0 L115.9,125.9 L116.3,126.8 L116.7,127.7 L117.2,128.6 L117.6,129.5 L118.1,130.5 L118.6,131.4 L119.0,132.3 L119.5,133.2 L120.0,134.1 L120.4,135.0 L120.8,135.8 L121.2,136.6 L121.6,137.3 L122.0,138.0 L122.6,139.1 L123.2,140.2 L123.7,141.1 L124.2,141.9 L124.6,142.6 L125.1,143.3 L125.5,143.9 L126.0,144.5 L126.8,145.4 L127.5,146.1 L128.3,146.7 L129.1,147.3 L130.0,147.8 L130.9,148.2 L131.8,148.7 L132.8,149.0 L133.8,149.4 L134.7,149.6 L135.6,149.8 L136.7,149.9 L137.8,149.7 L138.8,149.5 L140.0,149.2 L140.9,149.0 L141.9,148.7 L143.0,148.4 L144.0,148.1 L145.1,147.8 L146.0,147.5 L146.9,147.2 L147.8,146.9 L148.6,146.5 L149.5,146.3 L150.7,146.0 L151.5,145.9 L152.4,145.8 L153.4,145.7 L154.4,145.6 L155.4,145.5 L156.5,145.4 L157.7,145.4 L158.8,145.3 L160.0,145.2 L160.9,145.2 L161.8,145.1 L162.7,145.1 L163.7,145.1 L164.6,145.1 L165.6,145.1 L166.6,145.0 L167.6,145.0 L168.7,144.9 L169.8,144.9 L170.9,144.7 L172.0,144.6 L172.9,144.5 L173.8,144.3 L174.7,144.2 L175.6,144.0 L176.5,143.8 L177.5,143.6 L178.4,143.4 L179.4,143.2 L180.4,142.9 L181.4,142.7 L182.4,142.5 L183.4,142.2 L184.4,142.0 L185.4,141.7 L186.5,141.5 L187.5,141.2 L188.4,141.0 L189.4,140.7 L190.3,140.5 L191.3,140.2 L192.2,139.9 L193.2,139.6 L194.2,139.4 L195.1,139.1 L196.1,138.8 L197.1,138.5 L198.1,138.2 L199.1,137.9 L200.1,137.6 L201.1,137.4 L202.1,137.1 L203.0,136.9 L204.0,136.6 L205.0,136.4 L206.0,136.2 L207.0,136.0 L207.9,135.8 L208.9,135.6 L209.9,135.4 L210.9,135.3 L211.8,135.1 L212.8,134.9 L213.8,134.8 L214.8,134.6 L215.8,134.5 L216.7,134.3 L217.7,134.2 L218.7,134.0 L219.7,133.8 L220.7,133.7 L221.6,133.5 L222.6,133.3 L223.6,133.1 L224.5,132.9 L225.5,132.7 L226.5,132.5 L227.4,132.3 L228.4,132.1 L229.4,131.9 L230.3,131.7 L231.3,131.4 L232.3,131.2 L233.2,131.0 L234.2,130.8 L235.2,130.6 L236.1,130.4 L237.1,130.2 L238.1,130.0 L239.0,129.8 L240.0,129.6 L241.0,129.4 L241.9,129.2 L242.9,129.1 L243.9,128.9 L244.9,128.7 L245.9,128.6 L246.8,128.4 L247.8,128.2 L248.8,128.1 L249.8,127.9 L250.8,127.8 L251.7,127.6 L252.7,127.5 L253.7,127.3 L254.7,127.2 L255.6,127.0 L256.6,126.9 L257.6,126.7 L258.6,126.5 L259.6,126.4 L260.6,126.2 L261.5,126.1 L262.5,125.9 L263.5,125.8 L264.5,125.6 L265.5,125.5 L266.5,125.3 L267.5,125.1 L268.5,125.0 L269.5,124.8 L270.4,124.7 L271.4,124.6 L272.3,124.4 L273.3,124.3 L274.2,124.1 L275.1,124.0 L276.2,123.8 L277.2,123.7 L278.2,123.6 L279.2,123.4 L280.2,123.3 L281.1,123.2 L282.1,123.0 L283.0,122.9 L284.0,122.8 L284.9,122.6 L285.9,122.5 L286.9,122.4 L287.9,122.2 L288.9,122.1 L290.0,121.9 L290.9,121.8 L291.8,121.6 L292.8,121.5 L293.7,121.3 L294.7,121.1 L295.6,121.0 L296.6,120.8 L297.6,120.6 L298.6,120.5 L299.6,120.3 L300.6,120.1 L301.6,119.9 L302.6,119.8 L303.6,119.6 L304.6,119.5 L305.5,119.3 L306.5,119.1 L307.5,119.0 L308.5,118.9 L309.4,118.7 L310.4,118.6 L311.4,118.5 L312.4,118.3 L313.3,118.2 L314.3,118.1 L315.3,118.0 L316.2,117.9 L317.2,117.7 L318.2,117.6 L319.2,117.5 L320.1,117.4 L321.1,117.3 L322.1,117.2 L323.1,117.0 L324.0,116.9 L325.0,116.8 L326.0,116.7 L327.0,116.5 L327.9,116.4 L328.9,116.3 L329.9,116.2 L330.9,116.0 L331.8,115.9 L332.8,115.8 L333.8,115.6 L334.8,115.5 L335.8,115.4 L336.7,115.3 L337.7,115.1 L338.7,115.0 L339.7,114.9 L340.7,114.7 L341.6,114.6 L342.6,114.5 L343.6,114.4 L344.5,114.3 L345.5,114.1 L346.5,114.0 L347.4,113.9 L348.4,113.8 L349.4,113.7 L350.3,113.6 L351.3,113.5 L352.3,113.3 L353.2,113.2 L354.2,113.1 L355.2,113.0 L356.1,112.9 L357.1,112.8 L358.1,112.6 L359.0,112.5 L360.0,112.4 L361.0,112.3 L362.0,112.2 L363.0,112.0 L364.0,111.9 L365.0,111.8 L366.0,111.6 L367.1,111.5 L368.1,111.4 L369.1,111.2 L370.1,111.1 L371.1,111.0 L372.1,110.9 L373.1,110.7 L374.0,110.6 L375.0,110.5 L375.9,110.3 L376.8,110.2 L377.6,110.1 L378.8,109.9 L380.0,109.7 L381.1,109.6 L382.2,109.4 L383.3,109.2 L384.3,109.1 L385.3,108.9 L386.3,108.7 L387.2,108.6 L388.1,108.4 L389.0,108.2 L389.9,108.0 L391.0,107.7 L392.0,107.5 L393.0,107.3 L393.9,107.0 L394.7,106.7 L395.6,106.5 L396.6,106.1 L397.5,105.8 L398.6,105.4 L399.5,105.1 L400.4,104.7 L401.4,104.2 L402.5,103.8 L403.5,103.3 L404.6,102.9 L405.6,102.4 L406.6,101.9 L407.6,101.5 L408.5,101.1 L409.3,100.7 L410.0,100.4 L411.3,99.9 L412.2,99.5 L412.9,99.3 L413.6,99.0 L414.6,98.5 L415.3,98.1 L416.1,97.7 L416.9,97.2 L417.7,96.7 L418.6,96.2 L419.4,95.6 L420.3,95.1 L421.2,94.5 L422.0,94.0 L422.8,93.5 L423.7,92.9 L424.6,92.3 L425.4,91.7 L426.3,91.1 L427.1,90.5 L427.9,90.0 L428.6,89.6 L429.2,89.2 L430.3,88.6 L431.1,88.3 L431.8,88.1 L432.5,88.0 L433.3,87.8 L434.1,87.8 L435.0,87.8 L435.9,87.9 L436.8,88.2 L437.8,88.4 L438.7,88.5 L439.7,88.3 L440.6,88.0 L441.5,87.6 L442.5,87.1 L443.6,86.5 L444.5,86.2 L445.5,86.6 L446.2,87.6 L446.5,88.3 L446.8,89.1 L447.1,90.0 L447.4,91.0 L447.6,91.8 L447.8,92.7 L448.0,93.6 L448.3,94.6 L448.6,95.5 L448.9,96.3 L449.4,97.1 L450.0,97.7 L450.6,98.3 L451.2,99.0 L451.8,99.9 L452.2,100.7 L452.6,101.6 L453.0,102.6 L453.5,103.6 L453.9,104.6 L454.3,105.6 L454.7,106.5 L455.1,107.4 L455.5,108.3 L455.9,109.3 L456.4,110.2 L456.8,111.0 L457.2,111.7 L457.7,112.3 L458.6,112.9 L459.5,113.2 L460.4,113.4 L461.3,113.7 L462.1,114.2 L462.8,114.8 L463.5,115.5 L464.2,116.0 L465.1,116.7 L466.1,117.3 L467.2,117.4 L468.0,117.1 L468.8,116.7 L469.7,116.1 L470.6,115.3 L471.5,114.5 L472.1,113.8 L472.7,113.1 L473.4,112.4 L474.0,111.5 L474.6,110.7 L475.3,109.7 L475.9,108.7 L476.3,107.9 L476.8,107.1 L477.2,106.2 L477.7,105.3 L478.2,104.3 L478.6,103.3 L479.0,102.4 L479.5,101.5 L479.9,100.7 L480.3,99.9 L480.9,98.9 L481.4,97.9 L481.9,97.0 L482.4,96.1 L482.9,95.4 L483.4,94.7 L483.9,94.1 L484.9,93.1 L485.9,92.5 L486.9,92.4 L487.7,92.7 L488.6,93.2 L489.5,93.9 L490.5,94.4 L491.5,94.8 L492.6,95.1 L493.7,95.2 L494.9,95.1 L495.7,94.9 L496.4,94.6 L497.2,94.2 L498.1,93.6 L498.9,92.8 L499.8,91.7 L500.2,91.1 L500.7,90.3 L501.1,89.5 L501.6,88.6 L502.1,87.7 L502.5,86.7 L503.0,85.7 L503.5,84.7 L504.0,83.8 L504.5,82.8 L505.0,81.9 L505.5,81.1 L506.0,80.4 L506.8,79.4 L507.6,78.6 L508.4,77.7 L509.2,77.0 L510.1,76.2 L510.9,75.6 L511.6,75.0 L512.4,74.5 L513.0,74.0 L514.1,73.1 L515.0,72.5 L515.8,72.3 L516.8,72.4 L517.4,72.6 L518.0,72.8 L518.7,73.2 L519.3,73.6 L520.1,74.3 L520.9,75.3 L521.8,76.6 L522.2,77.2 L522.6,77.8 L523.0,78.6 L523.4,79.3 L523.9,80.2 L524.3,81.1 L524.8,82.0 L525.3,82.9 L525.8,83.9 L526.3,84.8 L526.8,85.8 L527.3,86.8 L527.8,87.8 L528.3,88.7 L528.8,89.7 L529.2,90.6 L529.7,91.4 L530.2,92.2 L530.6,93.0 L531.2,94.0 L531.8,95.0 L532.3,95.9 L532.9,96.9 L533.4,97.8 L534.0,98.7 L534.5,99.5 L535.1,100.3 L535.6,101.1 L536.1,101.9 L536.6,102.6 L537.1,103.2 L537.5,103.8 L538.0,104.3 L539.0,105.1 L539.8,105.4 L540.6,105.4 L541.4,105.5 L542.2,105.8 L543.0,106.8 L543.3,107.5 L543.7,108.3 L544.0,109.3 L544.4,110.4 L544.7,111.6 L545.1,112.9 L545.4,114.2 L545.8,115.4 L546.1,116.6 L546.5,117.7 L546.8,118.7 L547.2,119.5 L547.5,120.1 L547.9,120.5 L548.2,120.6 L548.5,120.4 L548.8,120.0 L549.2,119.4 L549.5,118.6 L549.8,117.7 L550.1,116.6 L550.4,115.5 L550.7,114.3 L551.1,113.0 L551.4,111.7 L551.7,110.5 L552.0,109.3 L552.3,108.1 L552.6,107.1 L552.9,106.2 L553.2,105.5 L553.9,104.1 L554.5,102.9 L555.1,102.0 L555.7,101.2 L556.3,100.6 L557.0,100.2 L557.7,100.0 L558.5,100.2 L559.3,100.9 L560.1,101.8 L561.0,102.8 L561.8,103.7 L562.6,104.2 L563.3,104.3 L563.9,104.0 L564.4,103.4 L564.8,102.6 L565.3,101.6 L565.7,100.5 L566.1,99.3 L566.6,98.0 L567.0,96.7 L567.3,95.9 L567.5,95.0 L567.8,94.0 L568.1,93.0 L568.3,91.9 L568.6,90.8 L568.8,89.7 L569.1,88.6 L569.4,87.5 L569.6,86.5 L569.8,85.5 L570.1,84.6 L570.3,83.7 L570.5,83.0 L570.9,81.6 L571.3,80.4 L571.7,79.4 L572.0,78.7 L572.4,78.2 L572.7,77.8 L573.3,78.0 L573.9,78.9 L574.5,79.8 L575.2,80.6 L575.9,80.8 L576.4,80.3 L576.9,79.3 L577.5,78.0 L577.8,77.3 L578.0,76.6 L578.2,75.8 L578.5,74.9 L578.8,73.9 L579.3,72.8 L579.8,71.5 L580.1,70.8 L580.5,69.9 L580.9,69.0 L581.4,68.0 L581.8,67.0 L582.3,65.9 L582.8,64.8 L583.3,63.8 L583.8,62.8 L584.3,61.8 L584.8,61.0 L585.2,60.2 L585.6,59.5 L585.9,59.0 L587.2,57.7 L588.4,59.0 L588.8,59.7 L589.3,60.7 L589.7,61.9 L590.3,63.2 L590.8,64.5 L591.3,65.6 L591.9,66.6 L592.4,67.2 L593.0,67.3 L593.4,67.0 L593.9,66.5 L594.3,65.8 L594.8,64.9 L595.3,63.8 L595.8,62.7 L596.2,61.5 L596.7,60.3 L597.1,59.2 L597.6,58.1 L598.0,57.2 L598.4,56.5 L599.1,55.4 L599.8,54.5 L600.4,53.7 L601.0,53.1 L601.6,52.7 L602.2,52.3 L603.2,51.9 L604.1,51.8 L605.1,52.0 L606.0,52.3 L606.8,53.1 L607.5,54.2 L608.3,55.1 L609.2,55.3 L609.8,54.9 L610.4,54.1 L611.0,53.1 L611.7,52.0 L612.4,50.9 L613.0,50.0 L613.7,49.3 L614.3,49.0 L614.9,49.0 L615.5,49.3 L616.1,49.8 L616.7,50.6 L617.3,51.5 L617.9,52.7 L618.5,54.0 L618.8,54.7 L619.1,55.5 L619.4,56.3 L619.8,57.3 L620.1,58.3 L620.5,59.3 L620.8,60.4 L621.2,61.5 L621.5,62.6 L621.8,63.7 L622.2,64.7 L622.5,65.7 L622.8,66.7 L623.1,67.5 L623.4,68.3 L623.6,69.0 L624.1,70.5 L624.5,71.6 L624.9,72.4 L625.2,73.1 L625.6,73.6 L626.0,74.0 L626.8,74.3 L627.7,74.1 L628.7,73.8 L629.8,74.0 L630.6,74.4 L631.4,74.8 L632.3,75.3 L633.2,76.0 L634.0,76.8 L634.9,77.9 L635.4,78.6 L635.8,79.4 L636.3,80.3 L636.8,81.2 L637.2,82.2 L637.7,83.2 L638.2,84.2 L638.6,85.2 L639.1,86.2 L639.5,87.1 L639.9,88.0 L640.4,89.1 L640.8,90.2 L641.3,91.4 L641.7,92.6 L642.1,93.7 L642.5,94.6 L642.9,95.3 L643.3,95.8 L643.7,96.0 L644.1,95.8 L644.5,95.4 L644.9,94.7 L645.3,93.8 L645.8,92.7 L646.2,91.6 L646.6,90.4 L647.0,89.2 L647.4,88.0 L647.7,87.2 L648.0,86.2 L648.3,85.2 L648.6,84.1 L648.9,83.1 L649.3,81.9 L649.6,80.8 L649.9,79.8 L650.2,78.7 L650.4,77.7 L650.7,76.9 L651.0,76.1 L651.2,75.4 L651.8,73.8 L652.2,72.7 L652.7,72.2 L653.2,72.4 L653.6,72.9 L653.9,73.7 L654.3,74.8 L654.7,76.0 L655.2,77.2 L655.7,78.2 L656.2,79.0 L657.1,79.6 L658.1,79.8 L659.1,79.9 L660.2,80.2 L661.2,81.0 L661.7,81.6 L662.1,82.3 L662.6,83.1 L663.1,84.0 L663.6,85.0 L664.0,86.0 L664.5,87.0 L665.0,88.0 L665.4,88.9 L665.9,89.7 L666.3,90.5 L666.9,91.6 L667.6,92.7 L668.2,93.7 L668.8,94.7 L669.3,95.4 L669.9,96.1 L670.5,96.5 L671.5,96.6 L672.5,96.1 L673.5,95.4 L674.4,94.8 L675.4,94.3 L676.2,93.9 L677.0,93.3 L677.6,92.8 L678.3,92.4 L678.9,91.7 L679.4,90.5 L679.6,89.9 L679.7,89.3 L679.9,88.8 L680.0,88.1 L680.1,87.4 L680.3,86.6 L680.4,85.5 L680.5,84.3 L680.6,82.8 L680.8,81.0 L680.9,80.3 L680.9,79.6 L681.0,78.7 L681.0,77.8 L681.1,76.9 L681.2,75.9 L681.2,74.9 L681.3,73.8 L681.4,72.7 L681.4,71.6 L681.5,70.4 L681.6,69.2 L681.6,68.0 L681.7,66.8 L681.8,65.7 L681.9,64.5 L681.9,63.3 L682.0,62.1 L682.1,61.0 L682.1,59.9 L682.2,58.8 L682.2,57.8 L682.3,56.8 L682.3,55.8 L682.4,54.9 L682.4,54.1 L682.5,53.3 L682.5,52.7 L682.6,52.0 L682.6,51.5" fill="none" stroke="#ff0000" stroke-width="2.7" stroke-linejoin="round" stroke-linecap="butt"/>
<path d="M39.85,0.95H685V4.45H43.6V477.75H682.7V4.45H685V481.9H39.85Z" fill="#000"/>
<line x1="171.0" y1="169.0" x2="155.7" y2="159.7" stroke="#ff0000" stroke-width="1.4"/><polygon points="145.2,153.3 157.5,156.7 153.9,162.7" fill="#ff0000"/>
<line x1="452.5" y1="139.0" x2="463.1" y2="129.0" stroke="#ff0000" stroke-width="1.4"/><polygon points="472.0,120.6 465.5,131.6 460.7,126.5" fill="#ff0000"/>
<line x1="624.2" y1="117.9" x2="634.9" y2="107.5" stroke="#ff0000" stroke-width="1.4"/><polygon points="643.7,98.9 637.3,110.0 632.4,105.0" fill="#ff0000"/>
<line x1="670.5" y1="127.8" x2="670.5" y2="114.1" stroke="#ff0000" stroke-width="1.4"/><polygon points="670.5,101.8 674.0,114.1 667.0,114.1" fill="#ff0000"/>
<line x1="626.0" y1="215.6" x2="636.3" y2="205.4" stroke="#0000ff" stroke-width="1.4"/><polygon points="645.0,196.7 638.7,207.9 633.8,202.9" fill="#0000ff"/>
<line x1="666.3" y1="229.6" x2="666.3" y2="215.1" stroke="#0000ff" stroke-width="1.4"/><polygon points="666.3,202.8 669.8,215.1 662.8,215.1" fill="#0000ff"/>
<line x1="423.0" y1="318.0" x2="432.9" y2="307.8" stroke="#000000" stroke-width="1.4"/><polygon points="441.5,299.0 435.4,310.3 430.4,305.4" fill="#000000"/>
<line x1="484.7" y1="333.0" x2="472.7" y2="321.2" stroke="#000000" stroke-width="1.4"/><polygon points="464.0,312.5 475.2,318.7 470.3,323.6" fill="#000000"/>
<line x1="177.5" y1="356.5" x2="159.6" y2="349.5" stroke="#000000" stroke-width="1.4"/><polygon points="148.2,345.0 160.9,346.2 158.4,352.8" fill="#000000"/>
<line x1="650.2" y1="401.6" x2="650.2" y2="388.7" stroke="#ff8000" stroke-width="1.4"/><polygon points="650.2,376.4 653.7,388.7 646.7,388.7" fill="#ff8000"/>
<line x1="636.0" y1="456.8" x2="646.5" y2="447.1" stroke="#ff00ff" stroke-width="1.4"/><polygon points="655.5,438.7 648.9,449.6 644.1,444.5" fill="#ff00ff"/>
<g transform="translate(48.7,40.2) scale(1,1.055)"><text x="0" y="0" class="b" fill="#ff0000">GOFB-4</text></g>
<g transform="translate(49.7,169.9) scale(1,1.055)"><text x="0" y="0" class="b" fill="#0000ff">FB-4</text></g>
<g transform="translate(47.8,253.6) scale(1,1.055)"><text x="0" y="0" class="b" fill="#000000">GO</text></g>
<g transform="translate(48,386.6) scale(1,1.055)"><text x="0" y="0" class="b" fill="#ff8000">Fe<tspan font-size="14.7" dy="8.5">3</tspan><tspan dy="-8.5">O</tspan><tspan font-size="14.7" dy="8.5">4</tspan></text></g>
<g transform="translate(49.2,430.6) scale(1,1.055)"><text x="0" y="0" class="b" fill="#ff00ff">BiOI</text></g>
<g transform="translate(199,178.3) scale(1,1.04)" fill="#ff0000"><text x="-24.58" y="0" class="a">3396</text></g>
<g transform="translate(446.4,162.6) scale(1,1.04)" fill="#ff0000"><path d="M-16.28,0.00L-18.23,0.00L-18.23,-12.38Q-18.93,-11.71 -20.07,-11.04Q-21.20,-10.37 -22.11,-10.04L-22.11,-11.91Q-20.48,-12.68 -19.26,-13.77Q-18.04,-14.86 -17.54,-15.88L-16.28,-15.88Z"/><text x="-12.29" y="0" class="a">580</text></g>
<g transform="translate(617,141.4) scale(1,1.04)" fill="#ff0000"><text x="-18.44" y="0" class="a">598</text></g>
<g transform="translate(662,151.1) scale(1,1.04)" fill="#ff0000"><text x="-18.44" y="0" class="a">466</text></g>
<g transform="translate(619.7,238.7) scale(1,1.04)" fill="#0000ff"><text x="-18.44" y="0" class="a">587</text></g>
<g transform="translate(662,252.4) scale(1,1.04)" fill="#0000ff"><text x="-18.44" y="0" class="a">483</text></g>
<g transform="translate(414.4,339.7) scale(1,1.04)" fill="#000000"><path d="M-16.28,0.00L-18.23,0.00L-18.23,-12.38Q-18.93,-11.71 -20.07,-11.04Q-21.20,-10.37 -22.11,-10.04L-22.11,-11.91Q-20.48,-12.68 -19.26,-13.77Q-18.04,-14.86 -17.54,-15.88L-16.28,-15.88Z"/><text x="-12.29" y="0" class="a">735</text></g>
<g transform="translate(491.3,356.1) scale(1,1.04)" fill="#000000"><path d="M-16.28,0.00L-18.23,0.00L-18.23,-12.38Q-18.93,-11.71 -20.07,-11.04Q-21.20,-10.37 -22.11,-10.04L-22.11,-11.91Q-20.48,-12.68 -19.26,-13.77Q-18.04,-14.86 -17.54,-15.88L-16.28,-15.88Z"/><text x="-12.29" y="0" class="a">625</text></g>
<g transform="translate(205.6,371) scale(1,1.04)" fill="#000000"><text x="-24.58" y="0" class="a">34</text><path d="M8.30,0.00L6.36,0.00L6.36,-12.38Q5.65,-11.71 4.52,-11.04Q3.38,-10.37 2.47,-10.04L2.47,-11.91Q4.10,-12.68 5.32,-13.77Q6.54,-14.86 7.05,-15.88L8.30,-15.88Z"/><text x="12.29" y="0" class="a">3</text></g>
<g transform="translate(650.2,423.8) scale(1,1.04)" fill="#ff8000"><text x="-18.44" y="0" class="a">572</text></g>
<g transform="translate(614.5,470.7) scale(1,1.04)" fill="#ff00ff"><text x="-18.44" y="0" class="a">537</text></g>
<g transform="translate(115.2,506.1) scale(1,1.015)" fill="#000000"><text x="-27.81" y="0" class="t">3500</text></g>
<g transform="translate(206.3,506.1) scale(1,1.015)" fill="#000000"><text x="-27.81" y="0" class="t">3000</text></g>
<g transform="translate(297.6,506.1) scale(1,1.015)" fill="#000000"><text x="-27.81" y="0" class="t">2500</text></g>
<g transform="translate(388.3,506.1) scale(1,1.015)" fill="#000000"><text x="-27.81" y="0" class="t">2000</text></g>
<g transform="translate(479.5,506.1) scale(1,1.015)" fill="#000000"><path d="M-18.42,0.00L-20.62,0.00L-20.62,-14.00Q-21.41,-13.24 -22.70,-12.49Q-23.99,-11.73 -25.01,-11.35L-25.01,-13.48Q-23.17,-14.34 -21.79,-15.58Q-20.41,-16.81 -19.84,-17.97L-18.42,-17.97Z"/><text x="-13.90" y="0" class="t">500</text></g>
<g transform="translate(570.8,506.1) scale(1,1.015)" fill="#000000"><path d="M-18.42,0.00L-20.62,0.00L-20.62,-14.00Q-21.41,-13.24 -22.70,-12.49Q-23.99,-11.73 -25.01,-11.35L-25.01,-13.48Q-23.17,-14.34 -21.79,-15.58Q-20.41,-16.81 -19.84,-17.97L-18.42,-17.97Z"/><text x="-13.90" y="0" class="t">000</text></g>
<g transform="translate(661.6,506.1) scale(1,1.015)" fill="#000000"><text x="-20.86" y="0" class="t">500</text></g>
<text x="370.7" y="547.3" class="s" fill="#000000" text-anchor="middle">Wavenumber (cm<tspan font-size="18" dy="-12.7">-1</tspan><tspan dy="12.7">)</tspan></text>
<text x="0" y="0" class="s" fill="#000000" text-anchor="middle" transform="translate(22.1,237.5) rotate(-90)">Transmittance (%)</text>
</svg>
</body></html>
